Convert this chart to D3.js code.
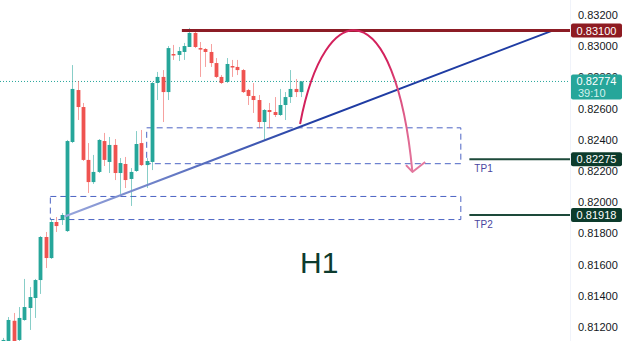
<!DOCTYPE html>
<html>
<head>
<meta charset="utf-8">
<script src="https://cdn.jsdelivr.net/npm/d3@7"></script>
<style>
  body { margin: 0; background: #fff; }
  svg { display: block; font-family: "Liberation Sans", Arial, sans-serif; }
</style>
</head>
<body>
<svg id="chart" width="625" height="341"></svg>
<script>
// H1 candles, oldest first
const open  = [0.81085,0.81060,0.81240,0.81117,0.81245,0.81322,0.81386,0.81501,0.81777,0.81642,
               0.81873,0.81886,0.81815,0.82386,0.82719,0.82610,0.82271,0.82129,0.82194,0.82392,
               0.82258,0.82367,0.82187,0.82245,0.82149,0.82200,0.82379,0.82238,0.82258,0.82764,
               0.82803,0.82706,0.82950,0.82944,0.82963,0.82995,0.83085,0.82988,0.82982,0.82963,
               0.82892,0.82803,0.82771,0.82873,0.82867,0.82847,0.82719,0.82681,0.82655,0.82514,
               0.82591,0.82578,0.82559,0.82623,0.82674,0.82726,0.82706];
const high  = [0.81130,0.81264,0.81290,0.81328,0.81508,0.81456,0.81508,0.81783,0.81809,0.81892,
               0.81905,0.81931,0.82399,0.82879,0.82777,0.82636,0.82379,0.82303,0.82405,0.82444,
               0.82418,0.82405,0.82283,0.82290,0.82219,0.82456,0.82463,0.82283,0.82771,0.82835,
               0.82847,0.83001,0.83008,0.82995,0.83021,0.83117,0.83104,0.83027,0.82988,0.83014,
               0.82924,0.82815,0.82924,0.82912,0.82912,0.82854,0.82726,0.82764,0.82687,0.82597,
               0.82636,0.82674,0.82726,0.82706,0.82847,0.82790,0.82777];
const low   = [0.81080,0.81050,0.81050,0.81110,0.81240,0.81181,0.81258,0.81412,0.81578,0.81636,
               0.81809,0.81854,0.81809,0.82379,0.82527,0.82264,0.82059,0.82117,0.82187,0.82232,
               0.82187,0.82142,0.82053,0.82091,0.81976,0.82194,0.82232,0.82091,0.82206,0.82655,
               0.82514,0.82655,0.82912,0.82905,0.82912,0.82995,0.82988,0.82803,0.82867,0.82867,
               0.82796,0.82758,0.82764,0.82803,0.82815,0.82700,0.82623,0.82572,0.82476,0.82399,
               0.82476,0.82546,0.82553,0.82527,0.82636,0.82674,0.82674];
const close = [0.81117,0.81245,0.81070,0.81258,0.81328,0.81392,0.81501,0.81777,0.81642,0.81873,
               0.81847,0.81918,0.82392,0.82726,0.82610,0.82271,0.82129,0.82194,0.82399,0.82271,
               0.82367,0.82187,0.82251,0.82142,0.82194,0.82373,0.82238,0.82264,0.82764,0.82803,
               0.82706,0.82988,0.82944,0.82969,0.83001,0.83085,0.82995,0.82982,0.82963,0.82892,
               0.82803,0.82764,0.82886,0.82867,0.82847,0.82706,0.82681,0.82655,0.82514,0.82591,
               0.82578,0.82559,0.82623,0.82674,0.82726,0.82706,0.82774];

const priceTicks = [0.812,0.814,0.816,0.818,0.820,0.822,0.824,0.826,0.828,0.830,0.832];

// drawings: [bar index, price]
const resistance = 0.83100;
const resistanceFrom = 33.6;
const trendLine = [[11.7, 0.81910], [103.2, 0.83100]];
const zones = [
  {from: 26.9, to: 85.9, top: 0.82480, bottom: 0.82250},
  {from: 8.8,  to: 85.9, top: 0.82040, bottom: 0.81892}
];
const targets = [{name: "TP1", price: 0.82275}, {name: "TP2", price: 0.81918}];
const targetFrom = 87.6;
const arrowCurve = [[55.8, 0.82501], [60.5, 0.83347], [73.7, 0.83347], [76.9, 0.82194]];
const arrowHead = [[75.7, 0.82238], [76.9, 0.82194], [79.3, 0.82258]];
const lastPrice = 0.82774;
const countdown = "39:10";
const timeframe = "H1";

const svg = d3.select("#chart");
const W = 625, H = 341, plotRight = 570;
const green = "#26a69a", red = "#ef5350";

const x = d3.scaleLinear().domain([-0.56, 106.5]).range([0, plotRight]);
const y = d3.scaleLinear().domain([0.812, 0.832]).range([327, 15]);
const fmt = d3.format(".5f");

const defs = svg.append("defs");
const tg = defs.append("linearGradient").attr("id", "trendGrad")
  .attr("gradientUnits", "userSpaceOnUse")
  .attr("x1", x(trendLine[0][0])).attr("x2", x(60)).attr("y1", 0).attr("y2", 0);
tg.append("stop").attr("offset", 0).attr("stop-color", "#98a6dc");
tg.append("stop").attr("offset", 1).attr("stop-color", "#1f3ca3");
const ag = defs.append("linearGradient").attr("id", "arrowGrad")
  .attr("gradientUnits", "userSpaceOnUse")
  .attr("x1", x(72)).attr("x2", x(77)).attr("y1", 0).attr("y2", 0);
ag.append("stop").attr("offset", 0).attr("stop-color", "#d3215c");
ag.append("stop").attr("offset", 1).attr("stop-color", "#e3789e");

// axis panel border
svg.append("line").attr("x1", plotRight + 0.5).attr("x2", plotRight + 0.5)
  .attr("y1", 0).attr("y2", H).attr("stroke", "#f0f3fa");

// price axis
const axis = d3.axisRight(y).tickValues(priceTicks).tickFormat(fmt).tickSize(0).tickPadding(8);
const ax = svg.append("g").attr("transform", `translate(${plotRight},0)`).call(axis);
ax.select(".domain").remove();
ax.selectAll("text").attr("font-size", 11).attr("fill", "#131722")
  .attr("font-family", "Liberation Sans, Arial, sans-serif");

// zones
svg.append("g").selectAll("rect").data(zones).join("rect")
  .attr("x", d => x(d.from) + 0.5).attr("y", d => y(d.top) + 0.5)
  .attr("width", d => x(d.to) - x(d.from)).attr("height", d => y(d.bottom) - y(d.top))
  .attr("fill", "none").attr("stroke", "#4c64c4").attr("stroke-width", 1)
  .attr("stroke-dasharray", "6,4");

// last price dotted line
svg.append("line").attr("x1", 0).attr("x2", plotRight)
  .attr("y1", y(lastPrice)).attr("y2", y(lastPrice))
  .attr("stroke", green).attr("stroke-dasharray", "1,2").attr("stroke-width", 1);

// candles
const idx = d3.range(open.length);
const cg = svg.append("g");
cg.selectAll("line").data(idx).join("line")
  .attr("x1", i => Math.round(x(i)) + 0.5).attr("x2", i => Math.round(x(i)) + 0.5)
  .attr("y1", i => y(high[i])).attr("y2", i => y(low[i]))
  .attr("stroke", i => close[i] >= open[i] ? green : red)
  .attr("stroke-opacity", 0.55).attr("stroke-width", 1);
cg.selectAll("rect").data(idx).join("rect")
  .attr("x", i => Math.round(x(i)) - 1.4).attr("width", 3.8)
  .attr("y", i => y(Math.max(open[i], close[i])))
  .attr("height", i => Math.max(1.5, Math.abs(y(open[i]) - y(close[i]))))
  .attr("fill", i => close[i] >= open[i] ? green : red);

// trend line
svg.append("line")
  .attr("x1", x(trendLine[0][0])).attr("y1", y(trendLine[0][1]))
  .attr("x2", x(trendLine[1][0])).attr("y2", y(trendLine[1][1]))
  .attr("stroke", "url(#trendGrad)").attr("stroke-width", 2).attr("stroke-linecap", "round");

// resistance
svg.append("line").attr("x1", x(resistanceFrom)).attr("x2", plotRight)
  .attr("y1", y(resistance)).attr("y2", y(resistance))
  .attr("stroke", "#8c1c25").attr("stroke-width", 3);

// curved arrow
const p = arrowCurve.map(d => [x(d[0]), y(d[1])]);
svg.append("path")
  .attr("d", `M${p[0]}C${p[1]} ${p[2]} ${p[3]}`)
  .attr("fill", "none").attr("stroke", "url(#arrowGrad)").attr("stroke-width", 2);
svg.append("path")
  .attr("d", d3.line().x(d => x(d[0])).y(d => y(d[1]))(arrowHead))
  .attr("fill", "none").attr("stroke", "#e3789e").attr("stroke-width", 2)
  .attr("stroke-linejoin", "round");

// targets
const tgG = svg.append("g").selectAll("g").data(targets).join("g");
tgG.append("line").attr("x1", x(targetFrom)).attr("x2", plotRight)
  .attr("y1", d => y(d.price)).attr("y2", d => y(d.price))
  .attr("stroke", "#1d4a3a").attr("stroke-width", 2);
tgG.append("text").attr("x", x(targetFrom) + 5).attr("y", d => y(d.price) + 13)
  .attr("font-size", 10).attr("fill", "#4a46a0").text(d => d.name);

// price badges
function badge(price, fill, label, h) {
  const g = svg.append("g");
  const top = y(price) - 7;
  g.append("rect").attr("x", plotRight + 1).attr("y", top).attr("width", 51)
    .attr("height", h || 14).attr("rx", 2).attr("fill", fill);
  g.append("text").attr("x", plotRight + 26.5).attr("y", top + 11)
    .attr("text-anchor", "middle").attr("font-size", 11).attr("fill", "#fff").text(label);
  return g;
}
badge(resistance, "#8e1b22", fmt(resistance));
targets.forEach(d => badge(d.price, "#0c3b2c", fmt(d.price)));
const lb = badge(lastPrice, green, fmt(lastPrice), 25);
lb.append("text").attr("x", plotRight + 8).attr("y", y(lastPrice) + 16)
  .attr("font-size", 11).attr("fill", "#d4f1ed").text(countdown);

// timeframe label
svg.append("text").attr("x", 300).attr("y", 273)
  .attr("font-size", 30).attr("fill", "#0d3b2e").text(timeframe);
</script>
</body>
</html>
